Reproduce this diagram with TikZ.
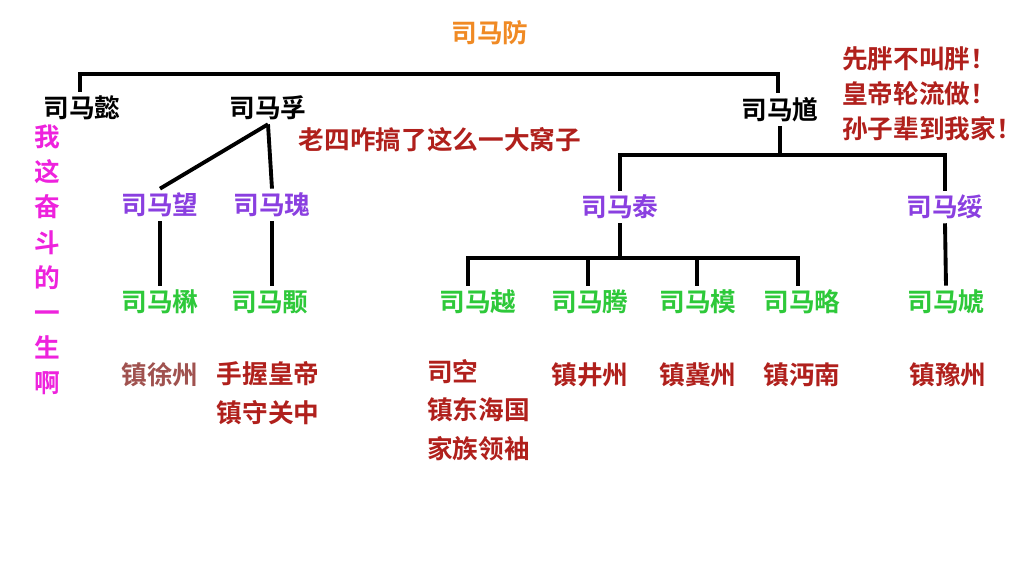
\documentclass[tikz,border=0pt]{standalone}
\usepackage{fontspec}
\newfontfamily\cjk{Noto Sans CJK SC}[BoldFont={Noto Sans CJK SC Bold}]
\definecolor{gen1}{HTML}{F08A24}
\definecolor{gen3}{HTML}{8A3FE0}
\definecolor{gen4}{HTML}{2EC93A}
\definecolor{note}{HTML}{B0201C}
\definecolor{notebrown}{HTML}{A0524F}
\definecolor{mag}{HTML}{EE22DD}
\tikzset{
  person/.style={font=\cjk\bfseries\fontsize{7.3}{8}\selectfont, inner sep=1pt},
  gtwo/.style={person, text=black},
  gone/.style={person, text=gen1},
  gthree/.style={person, text=gen3},
  gfour/.style={person, text=gen4},
  remark/.style={person, text=note, align=center},
  link/.style={black, line width=1.1pt}
}
\begin{document}
\begin{tikzpicture}[x=0.01cm,y=-0.01cm]
    \useasboundingbox[fill=white] (0,0) rectangle (1024,568);
    % generations
    \node[gone] (fang) at (490,33) {司马防};
    \node[gtwo] (yi) at (82,108) {司马懿};
    \node[gtwo] (fu) at (268,108) {司马孚};
    \node[gtwo] (kui) at (780,110) {司马馗};
    \node[gthree] (wang) at (160,205) {司马望};
    \node[gthree] (gui) at (272,205) {司马瑰};
    \node[gthree] (tai) at (620,207) {司马泰};
    \node[gthree] (sui) at (945,207) {司马绥};
    \node[gfour] (mao) at (160,302) {司马楙};
    \node[gfour] (yong) at (270,302) {司马颙};
    \node[gfour] (yue) at (478,302) {司马越};
    \node[gfour] (teng) at (590,302) {司马腾};
    \node[gfour] (mo) at (698,302) {司马模};
    \node[gfour] (lue) at (802,302) {司马略};
    \node[gfour] (xiao) at (946,302) {司马虓};
    % remarks
    \node[remark] (nfu) at (440,140) {老四咋搞了这么一大窝子};
    \node[remark, align=left] (nkui) at (932,94) {先胖不叫胖！\\[2pt]皇帝轮流做！\\[2pt]孙子辈到我家！};
    \node[person, text=mag, align=center] (nyi) at (47,260) {我\\[2pt]这\\[2pt]奋\\[2pt]斗\\[2pt]的\\[2pt]一\\[2pt]生\\[2pt]啊};
    \node[person, text=notebrown] (nmao) at (160,375) {镇徐州};
    \node[remark] (nyong) at (268,393) {手握皇帝\\[3pt]镇守关中};
    \node[remark, align=left, anchor=west] (nyue) at (423,410) {司空\\[3pt]镇东海国\\[3pt]家族领袖};
    \node[remark] (nteng) at (590,375) {镇井州};
    \node[remark] (nmo) at (698,375) {镇冀州};
    \node[remark] (nlue) at (802,375) {镇沔南};
    \node[remark] (nxiao) at (948,375) {镇豫州};
    % connectors
    \coordinate (topl) at (80,74);
    \coordinate (topr) at (778,74);
    \draw[link] (yi.north -| topl) -- (topl) -- (topr) -- (kui.north -| topr);
    \draw[link] (fu.south) -- (wang.north);
    \draw[link] (fu.south) -- (gui.north);
    \draw[link] (wang.south) -- (mao.north);
    \draw[link] (gui.south) -- (yong.north -| gui.south);
    \coordinate (kbar) at (780,155);
    \draw[link] (kui.south) -- (kbar);
    \draw[link] (tai.north) -- (tai.north |- kbar) -- (sui.north |- kbar) -- (sui.north);
    \coordinate (tbar) at (620,258);
    \draw[link] (tai.south) -- (tbar);
    \draw[link] (yue.north -| 468,0) -- (468,258) -- (798,258) -- (lue.north -| 798,0);
    \draw[link] (teng.north -| 588,0) -- (588,258);
    \draw[link] (mo.north -| 697,0) -- (697,258);
    \draw[link] (sui.south) -- (xiao.north);
\end{tikzpicture}
\end{document}
